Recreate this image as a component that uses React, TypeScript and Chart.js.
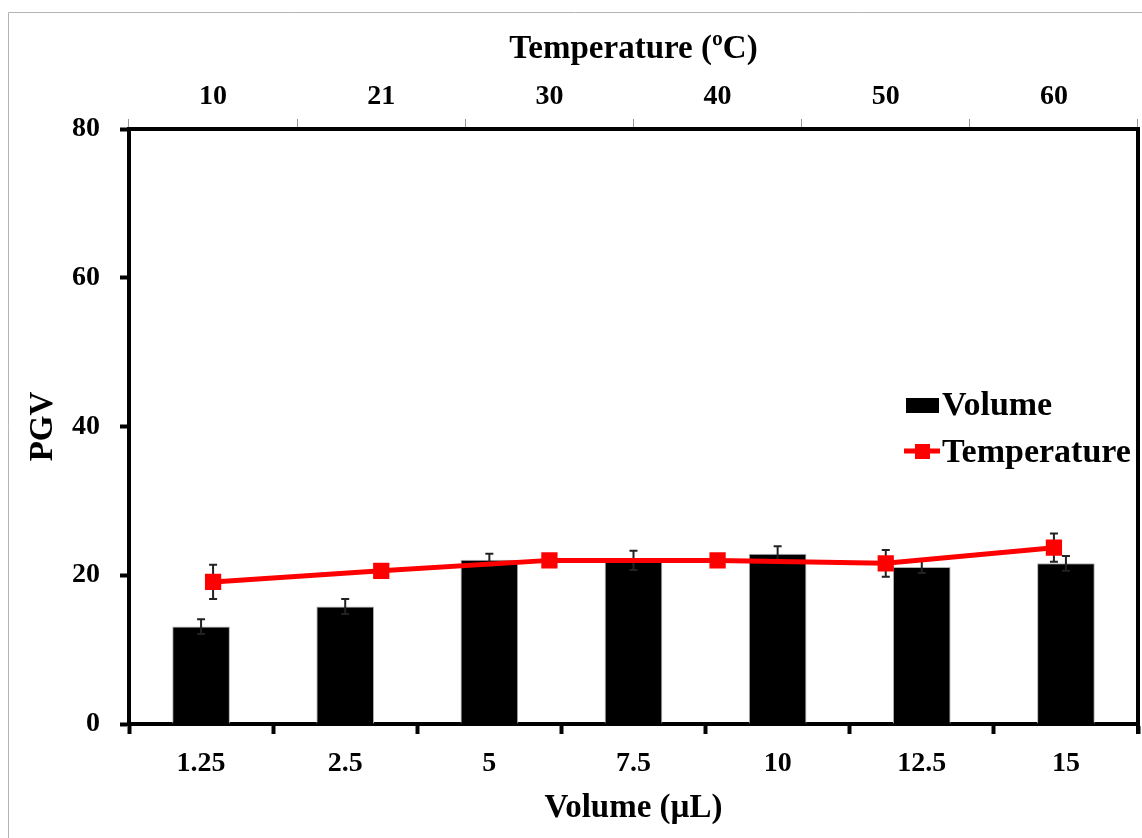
import React, { useEffect, useRef } from "react";
import { Chart, registerables } from "chart.js";

Chart.register(...registerables);

const volumeLabels = ["1.25", "2.5", "5", "7.5", "10", "12.5", "15"];
const volumeValues = [13.1, 15.8, 22.1, 22.0, 22.9, 21.1, 21.6];
const volumeErrors = [1.0, 1.0, 0.8, 1.3, 1.0, 0.8, 1.0];

const tempLabels = ["10", "21", "30", "40", "50", "60"];
const tempValues = [19.1, 20.6, 22.0, 22.0, 21.6, 23.7];
const tempErrors = [2.3, 0.5, 0.5, 0.5, 1.8, 1.9];

const yTicks = [0, 20, 40, 60, 80];

const FONT = "'Liberation Serif', 'Times New Roman', serif";

function drawErr(ctx: any, meta: any, ys: any, data: number[], errs: number[]) {
  ctx.save();
  ctx.strokeStyle = "#222";
  ctx.lineWidth = 2;
  meta.data.forEach((el: any, i: number) => {
    const e = errs[i];
    if (!e) return;
    const x = el.x;
    const yT = ys.getPixelForValue(data[i] + e);
    const yB = ys.getPixelForValue(data[i] - e);
    ctx.beginPath();
    ctx.moveTo(x, yT);
    ctx.lineTo(x, yB);
    ctx.moveTo(x - 4, yT);
    ctx.lineTo(x + 4, yT);
    ctx.moveTo(x - 4, yB);
    ctx.lineTo(x + 4, yB);
    ctx.stroke();
  });
  ctx.restore();
}

const errorBars = {
  id: "errorBars",
  afterDatasetDraw(chart: any, args: any) {
    const ds = chart.data.datasets[args.index];
    if (ds.type === "line" || !ds.errors) return;
    drawErr(chart.ctx, chart.getDatasetMeta(args.index), chart.scales.y, ds.data, ds.errors);
  },
  beforeDatasetDraw(chart: any, args: any) {
    const ds = chart.data.datasets[args.index];
    if (ds.type !== "line" || !ds.errors) return;
    drawErr(chart.ctx, chart.getDatasetMeta(args.index), chart.scales.y, ds.data, ds.errors);
  },
};

const frame = {
  id: "frame",
  beforeDraw(chart: any) {
    const ctx = chart.ctx;
    ctx.save();
    ctx.strokeStyle = "#b4b4b4";
    ctx.lineWidth = 1;
    ctx.beginPath();
    ctx.moveTo(8.5, 838);
    ctx.lineTo(8.5, 12.5);
    ctx.lineTo(1142, 12.5);
    ctx.stroke();
    ctx.restore();
  },
  afterDraw(chart: any) {
    const ctx = chart.ctx;
    const a = chart.chartArea;
    ctx.save();
    ctx.strokeStyle = "#000";
    ctx.lineWidth = 4;
    ctx.beginPath();
    ctx.moveTo(a.right, a.top - 2);
    ctx.lineTo(a.right, a.bottom + 10);
    ctx.stroke();

    // legend
    ctx.font = "bold 34px " + FONT;
    ctx.textBaseline = "middle";
    ctx.textAlign = "left";
    ctx.fillStyle = "#000";
    ctx.fillRect(906, 398, 33, 15);
    ctx.fillText("Volume", 942, 406);
    ctx.strokeStyle = "#ff0000";
    ctx.lineWidth = 5;
    ctx.beginPath();
    ctx.moveTo(904, 451);
    ctx.lineTo(940, 451);
    ctx.stroke();
    ctx.fillStyle = "#ff0000";
    ctx.fillRect(915, 444, 15, 15);
    ctx.fillStyle = "#000";
    ctx.fillText("Temperature", 942, 453);
    ctx.restore();
  },
};

export default function App() {
  const ref = useRef<HTMLCanvasElement>(null);
  useEffect(() => {
    if (!ref.current) return;
    const chart = new Chart(ref.current, {
      type: "bar",
      data: {
        labels: volumeLabels,
        datasets: [
          {
            type: "line",
            label: "Temperature",
            data: tempValues,
            errors: tempErrors,
            xAxisID: "x2",
            yAxisID: "y",
            borderColor: "#ff0000",
            backgroundColor: "#ff0000",
            borderWidth: 5,
            pointStyle: "rect",
            pointRadius: 11.5,
            pointBorderWidth: 0,
            order: 0,
          } as any,
          {
            type: "bar",
            label: "Volume",
            data: volumeValues,
            errors: volumeErrors,
            xAxisID: "x",
            yAxisID: "y",
            backgroundColor: "#000",
            borderColor: "#b0b0b0",
            borderWidth: 1,
            grouped: false,
            barPercentage: 0.4,
            categoryPercentage: 1,
            order: 1,
          } as any,
        ],
      },
      options: {
        animation: false,
        responsive: true,
        maintainAspectRatio: false,
        layout: { autoPadding: false, padding: { left: 0, right: 4, top: 0, bottom: 0 } },
        plugins: {
          legend: { display: false },
          tooltip: { enabled: false },
        },
        scales: {
          x: {
            type: "category",
            position: "bottom",
            labels: volumeLabels,
            offset: true,
            afterFit: (s: any) => {
              s.height = 114;
              s.paddingLeft = 0;
              s.paddingRight = 0;
            },
            grid: {
              offset: true,
              drawOnChartArea: false,
              drawTicks: true,
              tickLength: 10,
              tickWidth: 4,
              tickColor: "#000",
            },
            border: { display: true, width: 4, color: "#000" },
            ticks: {
              color: "#000",
              padding: 13,
              maxRotation: 0,
              font: { family: FONT, size: 28, weight: "bold" },
            },
            title: {
              display: true,
              text: "Volume (µL)",
              color: "#000",
              padding: { top: 0, bottom: 10 },
              font: { family: FONT, size: 33, weight: "bold" },
            },
          },
          x2: {
            type: "category",
            position: "top",
            labels: tempLabels,
            offset: true,
            afterFit: (s: any) => {
              s.height = 129;
              s.paddingLeft = 0;
              s.paddingRight = 0;
            },
            grid: {
              offset: true,
              drawOnChartArea: false,
              drawTicks: true,
              tickLength: 10,
              tickWidth: 1,
              tickColor: "#999",
            },
            border: { display: true, width: 4, color: "#000" },
            ticks: {
              color: "#000",
              padding: 5,
              maxRotation: 0,
              font: { family: FONT, size: 28, weight: "bold" },
            },
            title: {
              display: true,
              text: "Temperature (ºC)",
              color: "#000",
              padding: { top: 30, bottom: 0 },
              font: { family: FONT, size: 33, weight: "bold" },
            },
          },
          y: {
            type: "linear",
            position: "left",
            min: 0,
            max: 80,
            afterFit: (s: any) => {
              s.width = 129;
              s.paddingTop = 0;
              s.paddingBottom = 0;
            },
            afterBuildTicks: (s: any) => {
              s.ticks = yTicks.map((v) => ({ value: v }));
            },
            grid: {
              drawOnChartArea: false,
              drawTicks: true,
              tickLength: 9,
              tickWidth: 4,
              tickColor: "#000",
            },
            border: { display: true, width: 4, color: "#000" },
            ticks: {
              color: "#000",
              padding: 20,
              font: { family: FONT, size: 28, weight: "bold" },
            },
            title: {
              display: true,
              text: "PGV",
              color: "#000",
              padding: { top: 24, bottom: 0 },
              font: { family: FONT, size: 33, weight: "bold" },
            },
          },
        },
      } as any,
      plugins: [errorBars, frame],
    });
    return () => chart.destroy();
  }, []);
  return (
    <div style={{ position: "fixed", left: 0, top: 0, width: 1142, height: 838 }}>
      <canvas ref={ref} />
    </div>
  );
}
